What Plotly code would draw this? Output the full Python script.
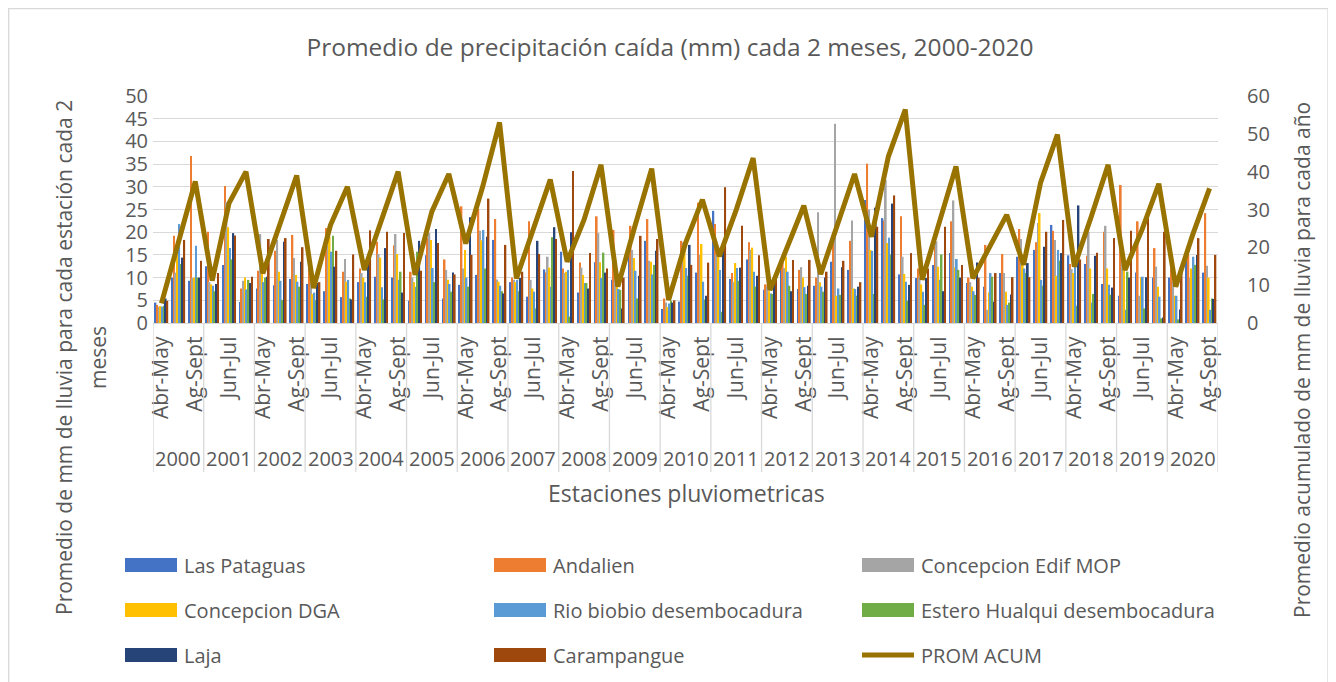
import plotly.graph_objects as go

YEARS = [str(y) for y in range(2000, 2021)]
PERIODS = ["Abr-May", "Jun-Jul", "Ag-Sept"]

SERIES_NAMES = ["Las Pataguas", "Andalien", "Concepcion Edif MOP", "Concepcion DGA",
                "Rio biobio desembocadura", "Estero Hualqui desembocadura", "Laja", "Carampangue"]
COLORS = ["#4472C4", "#ED7D31", "#A5A5A5", "#FFC000", "#5B9BD5", "#70AD47", "#264478", "#9E480E"]
LINE_NAME = "PROM ACUM"
LINE_COLOR = "#997300"

las_pataguas = [4.5, 10, 9.3, 12.5, 12.8, 4.6, 7.6, 8.3, 9.7, 8.6, 7, 5.7, 9, 10.2, 10, 4.9, 14.9, 5.4,
                8.4, 10.6, 18.3, 9, 5.8, 11.8, 15.7, 6.7, 13.4, 9.5, 17.5, 18.1, 3.1, 4.7, 11.1, 24.7,
                9.7, 14, 7.3, 12.6, 7.5, 8.2, 13.5, 11.7, 27.1, 23.1, 10.7, 9.9, 12.8, 15.4, 8.8, 8, 11,
                14.6, 16.1, 21.6, 14.9, 13, 8.6, 6, 11.1, 10, 10, 14.8, 11.1]
andalien = [4, 19.2, 36.8, 20.1, 30.2, 7.6, 11.5, 15.9, 19.4, 12, 20.9, 11.3, 12, 17.9, 17.1, 11.3, 18.7, 14,
            25.7, 25.1, 22.9, 10, 22.4, 11.1, 12, 13.3, 23.5, 20.5, 21.4, 22.9, 5.4, 18.1, 26.5, 21.8,
            11, 17.8, 8.5, 13.2, 11.7, 10, 18.2, 18.1, 35.1, 22.6, 23.5, 12, 16.8, 22.4, 10, 17.2, 15.2,
            20.7, 17.8, 20.3, 13, 14.8, 20.1, 30.4, 22.4, 16.5, 12, 15, 24.2]
concepcion_mop = [3.6, 11.1, 9.9, 9, 26.6, 9.3, 19.6, 18.3, 14.3, 9, 17, 14.1, 11, 15.2, 19.6, 10, 19.8, 11.7,
                  12, 20.3, 9.6, 9.5, 9.5, 14.6, 11, 12.2, 19.8, 14, 16.1, 13.7, 4.5, 17.8, 15, 15,
                  9, 16.1, 8, 12.1, 12.3, 24.4, 43.9, 22.6, 25, 31.5, 14.6, 10, 18, 27, 9, 2.9, 11,
                  18.5, 22, 18.3, 11.9, 20.1, 21.4, 14.6, 6, 12.4, 9, 9.9, 12.6]
concepcion_dga = [3.7, 16.8, 10, 8.5, 21.1, 10, 12, 11.3, 10.6, 6.4, 19, 9.1, 10, 14.4, 15.2, 9, 18.3, 9.5,
                  16.1, 18.2, 9.1, 9, 7.6, 12.2, 11.3, 10.6, 13.4, 10, 14.3, 13.5, 3.5, 15.9, 17.4, 14.8,
                  13.2, 16.6, 7, 14.6, 10, 9, 6, 7.6, 16.1, 17.6, 10.8, 8.5, 12.4, 12.2, 8, 6.7, 6.9,
                  14, 24.2, 10.4, 11, 12, 12, 12, 10, 8, 6, 12, 10]
rio_biobio = [3.6, 21.8, 17, 8.2, 16.5, 7.4, 9, 9.3, 9.1, 6.7, 15.7, 9.5, 9, 7.9, 9.5, 8, 12.1, 8.6,
              10, 20.5, 8.2, 9.5, 6.9, 8, 11.7, 8.8, 9.9, 7.5, 11.5, 10.7, 4.3, 12.1, 9.1, 11.7,
              12.1, 11.3, 6.5, 11.3, 7.9, 8, 7.6, 7.5, 15.9, 18.8, 9.1, 6.9, 9.5, 14.1, 7, 11, 4,
              12, 9.5, 16.1, 13.2, 4.5, 8.4, 2.9, 10.2, 5.8, 6, 14.6, 2.9]
estero_hualqui = [3.8, 13, 10, 7, 14, 9.5, 10, 5.1, 8, 5, 19.2, 5.4, 5.8, 5.2, 11.3, 15.7, 9, 6.9,
                  8, 12, 7, 7, 3.2, 18.9, 1.4, 8.8, 15.5, 7.3, 5.4, 12.8, 4.9, 10.4, 5.2, 2.5,
                  9.3, 8, 6.4, 8.2, 6.4, 6.9, 6.2, 6, 6.4, 15.1, 4.9, 4, 15.1, 11.7, 6.2, 10.2, 4.5,
                  11, 8.2, 13.7, 3.8, 6.4, 6.2, 11.3, 3.2, 1, 0.8, 12.8, 5.4]
laja = [5.4, 14.4, 10, 8.6, 19.8, 8.8, 10.2, 17.9, 13.5, 8.8, 12.4, 5.2, 15.1, 16.5, 6.7, 18.1, 20.7, 11.1,
        23.3, 19, 6.5, 9.9, 18.1, 21.1, 20, 7.6, 11.1, 3.2, 10.4, 15.9, 4.5, 17.2, 6, 16.1,
        12.2, 10.4, 8.8, 7, 8.2, 10, 12.3, 8, 25.4, 26.3, 8.4, 9.9, 7, 10, 13.3, 4.7, 6.3,
        13.2, 16.8, 15.4, 25.9, 14.8, 7.8, 10, 10.1, 1.2, 3, 15, 5.3]
carampangue = [4.9, 18.3, 13.7, 11, 19.3, 10.2, 18.5, 18.7, 16.7, 9, 15.9, 15.1, 20.4, 20.1, 19.8, 11.5, 17.6, 10.7,
               15, 27.4, 17.2, 11.3, 15.2, 18.5, 33.5, 15.4, 12, 10, 19.2, 18.5, 5, 12.8, 13.3, 29.9,
               21.4, 14.9, 10, 13.9, 13.9, 11.3, 13.7, 9, 21.2, 28.1, 15.4, 12, 21.2, 12.8, 10, 11, 10.1,
               10.1, 20.1, 22.7, 14, 15.5, 18.7, 20.3, 23.2, 20.1, 12, 18.7, 15]
prom_acum = [5.2, 21, 37.4, 11.2, 31.7, 40, 13.1, 26, 39, 9.2, 25.9, 36, 14, 27, 40, 12.7, 29.5, 39.4,
             21, 36, 53, 11.8, 24.6, 37.9, 16.2, 27.3, 41.8, 9.6, 25.5, 40.8, 6.1, 21.1, 32.6, 17.6,
             29.9, 43.6, 8.7, 20.2, 31, 12.9, 26.4, 39.4, 22.8, 44, 56.4, 11.4, 26.4, 41.4, 11.8, 20.2, 28.6,
             15.4, 37, 49.8, 14.9, 28.1, 41.8, 14, 24.6, 36.8, 9.6, 23.3, 35.6]

SERIES = [las_pataguas, andalien, concepcion_mop, concepcion_dga, rio_biobio, estero_hualqui, laja, carampangue]

n = len(YEARS) * len(PERIODS)
x = list(range(n))
period_labels = [p for _ in YEARS for p in PERIODS]

TXT = "#595959"
GRID = "#D9D9D9"
FONT = "Open Sans"

# the page places the figure 8px from the top-left corner
OFF = 8
W, H = 1336 - OFF, 682 - OFF
L, R, T, B = 153 - OFF, 118, 96 - OFF, 359
PW = W - L - R
PH = H - T - B


def xp(px):
    # px: horizontal position in the screenshot
    return (px - OFF - L) / PW


def yp(py):
    # py: vertical position in the screenshot
    return (H - B - (py - OFF)) / PH


fig = go.Figure()
for name, vals, col in zip(SERIES_NAMES, SERIES, COLORS):
    fig.add_trace(go.Bar(x=x, y=vals, name=name, marker=dict(color=col, line=dict(width=0)),
                         showlegend=False))
fig.add_trace(go.Scatter(x=x, y=prom_acum, name=LINE_NAME, mode="lines",
                         line=dict(color=LINE_COLOR, width=5), yaxis="y2", showlegend=False))

shapes = []
annotations = []

# year dividers
for k in range(len(YEARS) + 1):
    xv = k * len(PERIODS) - 0.5
    shapes.append(dict(type="line", xref="x", yref="paper", x0=xv, x1=xv, y0=0, y1=yp(472),
                       line=dict(color=GRID, width=1.3)))
# year labels
for k, yr in enumerate(YEARS):
    annotations.append(dict(text=yr, xref="x", yref="paper", x=k * len(PERIODS) + 1, y=yp(458),
                            xanchor="center", yanchor="middle",
                            showarrow=False, font=dict(size=20, color=TXT, family=FONT)))

# axis titles
annotations.append(dict(text="Estaciones pluviometricas", xref="paper", yref="paper", x=xp(686), y=yp(493),
                        xanchor="center", yanchor="middle",
                        showarrow=False, font=dict(size=23, color=TXT, family=FONT)))
annotations.append(dict(text="Promedio de mm de lluvia para cada estación cada 2", xref="paper", yref="paper",
                        x=xp(64), y=yp(358), textangle=-90, showarrow=False, xanchor="center", yanchor="middle",
                        font=dict(size=21, color=TXT, family=FONT)))
annotations.append(dict(text="meses", xref="paper", yref="paper",
                        x=xp(98), y=yp(358), textangle=-90, showarrow=False, xanchor="center", yanchor="middle",
                        font=dict(size=21, color=TXT, family=FONT)))
annotations.append(dict(text="Promedio acumulado de mm de lluvia para cada año", xref="paper", yref="paper",
                        x=xp(1302), y=yp(360), textangle=-90, showarrow=False, xanchor="center", yanchor="middle",
                        font=dict(size=21, color=TXT, family=FONT)))

# legend
legend_items = list(zip(SERIES_NAMES, COLORS)) + [(LINE_NAME, LINE_COLOR)]
col_x = [125, 494, 862]
row_y = [565, 610, 655]
for i, (name, col) in enumerate(legend_items):
    cx = col_x[i % 3]
    ry = row_y[i // 3]
    if name == LINE_NAME:
        shapes.append(dict(type="line", xref="paper", yref="paper", x0=xp(cx), x1=xp(cx + 52),
                           y0=yp(ry), y1=yp(ry), line=dict(color=col, width=5)))
    else:
        shapes.append(dict(type="rect", xref="paper", yref="paper", x0=xp(cx), x1=xp(cx + 52),
                           y0=yp(ry - 7), y1=yp(ry + 7), fillcolor=col, line=dict(width=0)))
    annotations.append(dict(text=name, xref="paper", yref="paper", x=xp(cx + 57), y=yp(ry),
                            xanchor="left", yanchor="middle", showarrow=False,
                            font=dict(size=20, color=TXT, family=FONT)))

# chart border (bottom edge lies below the visible window)
shapes.append(dict(type="rect", xref="paper", yref="paper", x0=xp(8.7), x1=xp(1328), y0=yp(700), y1=yp(8.7),
                   line=dict(color=GRID, width=1.3), fillcolor="rgba(0,0,0,0)", layer="below"))

fig.update_layout(
    width=W, height=H,
    margin=dict(l=L, r=R, t=T, b=B, autoexpand=False),
    paper_bgcolor="white", plot_bgcolor="white",
    font=dict(family=FONT, color=TXT, size=20),
    title=dict(text="Promedio de precipitación caída (mm) cada 2 meses, 2000-2020",
               x=(670 - OFF) / W, xref="container", y=1 - (47 - OFF) / H, yref="container", yanchor="middle",
               xanchor="center", font=dict(size=24.5, color=TXT, family=FONT)),
    barmode="group", bargap=0.2, bargroupgap=0,
    showlegend=False,
    xaxis=dict(range=[-0.5, n - 0.5], tickmode="array", tickvals=x[::2], ticktext=period_labels[::2],
               tickangle=-90, showgrid=False, zeroline=False, showline=True, linecolor=GRID, linewidth=1.3,
               ticks="", tickfont=dict(size=21, color=TXT), ticklabelstandoff=4, automargin=False),
    yaxis=dict(range=[0, 50], dtick=5, showgrid=True, gridcolor=GRID, gridwidth=1.3, zeroline=False,
               showline=False, ticks="", tickfont=dict(size=20, color=TXT), ticklabelstandoff=4,
               automargin=False),
    yaxis2=dict(range=[0, 60], dtick=10, overlaying="y", side="right", showgrid=False, zeroline=False,
                showline=False, ticks="", tickfont=dict(size=20, color=TXT), ticklabelstandoff=28,
                automargin=False),
    shapes=shapes,
    annotations=annotations,
)

fig.write_html("out.html")
